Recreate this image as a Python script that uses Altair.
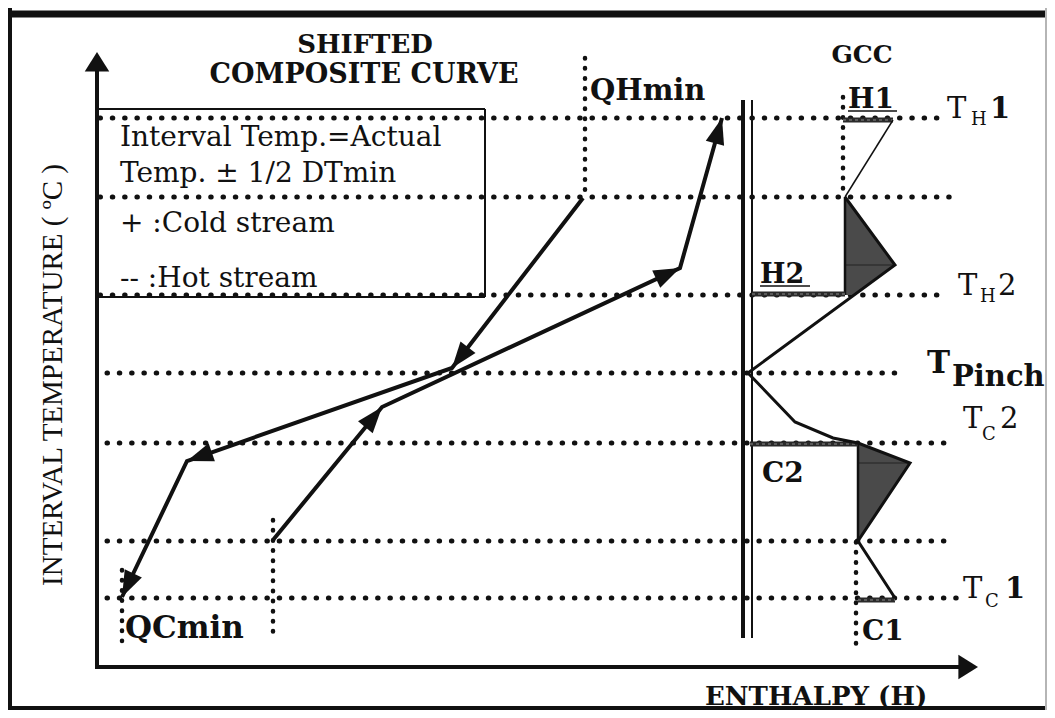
import math
import altair as alt
import pandas as pd

# ---------------- data (schematic units: H = enthalpy, T = interval temperature) -------------
# temperature interval boundaries
level_names = ["T_H1", "T_2", "T_H2", "T_Pinch", "T_C2", "T_6", "T_C1"]
level_T = [600, 521, 423, 345, 275, 177, 120]
level_H_from = [100, 100, 100, 107, 107, 107, 107]
level_H_to = [947, 955, 940, 895, 947, 947, 958]

# shifted composite curves
hot_H = [583, 452, 187, 122]
hot_T = [520, 350, 257, 121]
cold_H = [273, 382, 680, 722]
cold_T = [178, 311, 450, 600]

# grand composite curve
gcc_top_H = [893, 845]
gcc_top_T = [598, 521]
gcc_H = [845, 895, 748, 795, 833, 858, 910, 858, 895]
gcc_T = [521, 453, 345, 296, 280, 275, 255, 177, 120]

# heat-recovery pockets of the GCC
pocket1_T = [521, 453, 423]
pocket1_H = [845, 895, 854]
pocket1_base = 845
pocket2_T = [275, 255, 177]
pocket2_H = [858, 910, 858]
pocket2_base = 858

# utility bars (H1, H2 hot utilities; C2, C1 cold utilities)
bar_names = ["H1", "H2", "C2", "C1"]
bar_T = [598, 424, 274, 118]
bar_H_from = [843, 752, 750, 858]
bar_H_to = [893, 845, 858, 895]

# dotted guides (QHmin, H1, QCmin left/right, C1)
guide_names = ["QHmin", "H1", "QCmin_a", "QCmin_b", "C1"]
guide_H = [585, 843, 122, 273, 856]
guide_T_from = [660, 621, 148, 198, 176]
guide_T_to = [521, 521, 77, 77, 68]

# ---------------- scales ----------------
XS = alt.Scale(domain=[8, 1047], nice=False, zero=False)
YS = alt.Scale(domain=[8, 710], nice=False, zero=False)
INK = "#111111"
SERIF = "DejaVu Serif"


def X(f="H"):
    return alt.X(f"{f}:Q", scale=XS, axis=None)


def Y(f="T"):
    return alt.Y(f"{f}:Q", scale=YS, axis=None)


def hrules(rows, **mk):
    df = pd.DataFrame(rows, columns=["H", "H2", "T"])
    return alt.Chart(df).mark_rule(**mk).encode(x=X("H"), x2="H2", y=Y("T"))


def vrules(rows, **mk):
    df = pd.DataFrame(rows, columns=["H", "T", "T2"])
    return alt.Chart(df).mark_rule(**mk).encode(x=X("H"), y=Y("T"), y2="T2")


def polyline(Hs, Ts, **mk):
    df = pd.DataFrame({"H": Hs, "T": Ts, "i": range(len(Hs))})
    return alt.Chart(df).mark_line(**mk).encode(x=X(), y=Y(), order="i:Q")


layers = []

# frame
layers.append(hrules([(8, 1047, 704)], color=INK, strokeWidth=7))
layers.append(hrules([(8, 1047, 10)], color=INK, strokeWidth=4))
layers.append(vrules([(10, 8, 710)], color=INK, strokeWidth=4))
layers.append(vrules([(1046, 8, 710)], color="#b5b5b5", strokeWidth=2))

# dotted temperature levels
dot = dict(color=INK, strokeWidth=5, strokeCap="round", strokeDash=[0.5, 11.8])
layers.append(hrules(list(zip(level_H_from, level_H_to, level_T)), **dot))
# dotted vertical guides
vdot = dict(color=INK, strokeWidth=4.5, strokeCap="round", strokeDash=[0.5, 9.6])
layers.append(vrules(list(zip(guide_H, guide_T_from, guide_T_to)), **vdot))

# legend box
layers.append(hrules([(97, 485, 609), (97, 485, 421)], color=INK, strokeWidth=2))
layers.append(vrules([(485, 609, 421)], color=INK, strokeWidth=2))

# axes
layers.append(vrules([(97, 51, 650)], color=INK, strokeWidth=4))
layers.append(hrules([(95, 962, 51)], color=INK, strokeWidth=4))

# composite curves
layers.append(polyline(hot_H, hot_T, color=INK, strokeWidth=4))
layers.append(polyline(cold_H, cold_T, color=INK, strokeWidth=4))

# GCC double axis line
layers.append(vrules([(743, 618, 80)], color=INK, strokeWidth=4))
layers.append(vrules([(752, 618, 80)], color=INK, strokeWidth=2))

# pockets (shaded)
for Ts, Hs, base in [(pocket1_T, pocket1_H, pocket1_base), (pocket2_T, pocket2_H, pocket2_base)]:
    df = pd.DataFrame({"T": Ts, "H": Hs, "Hb": [base] * len(Ts)})
    layers.append(
        alt.Chart(df)
        .mark_area(orient="horizontal", color="#4a4a4a", opacity=1)
        .encode(y=Y(), x=X(), x2="Hb")
    )
    layers.append(hrules([(base, max(Hs), Ts[1])], color="#222222", strokeWidth=1))
    layers.append(vrules([(base, Ts[0], Ts[-1])], color=INK, strokeWidth=2.5))

# utility bars
layers.append(hrules(list(zip(bar_H_from, bar_H_to, bar_T)), color="#2a2a2a", strokeWidth=5))
layers.append(hrules(list(zip(bar_H_from, bar_H_to, bar_T)), color="#8a8a8a", strokeWidth=1, strokeDash=[3, 3]))

# GCC line
layers.append(polyline(gcc_top_H, gcc_top_T, color=INK, strokeWidth=1.5))
layers.append(polyline(gcc_H, gcc_T, color=INK, strokeWidth=3))

# arrowheads on composite curves (at the end of every segment)
heads = []
for Hs, Ts in [(hot_H, hot_T), (cold_H, cold_T)]:
    for k in range(1, len(Hs)):
        dH, dT = Hs[k] - Hs[k - 1], Ts[k] - Ts[k - 1]
        heads.append({"H": Hs[k], "T": Ts[k], "ang": math.degrees(math.atan2(dH, dT)) % 360})
layers.append(
    alt.Chart(pd.DataFrame(heads))
    .mark_point(shape="M0,0L0.65,1.8L-0.65,1.8Z", filled=True, size=850, color=INK, opacity=1, strokeWidth=0)
    .encode(x=X(), y=Y(), angle=alt.Angle("ang:Q", scale=None))
)
# axis arrowheads
axis_heads = pd.DataFrame({"H": [97, 978], "T": [666, 51], "ang": [0, 90]})
layers.append(
    alt.Chart(axis_heads)
    .mark_point(shape="M0,0L1,1.6L-1,1.6Z", filled=True, size=600, color=INK, opacity=1, strokeWidth=0)
    .encode(x=X(), y=Y(), angle=alt.Angle("ang:Q", scale=None))
)

# underlines of H1, H2
layers.append(hrules([(848, 897, 607), (760, 810, 432)], color=INK, strokeWidth=1.5))

# ---------------- text ----------------
labels = [
    # text, H, T, size, weight, align, font
    ("SHIFTED", 365, 665, 26, "bold", "center", SERIF),
    ("COMPOSITE CURVE", 364, 635, 27, "bold", "center", SERIF),
    ("GCC", 862, 655, 25, "bold", "center", SERIF),
    ("QHmin", 590, 618, 29, "bold", "left", SERIF),
    ("QCmin", 125, 80, 31, "bold", "left", SERIF),
    ("H1", 848, 610, 28, "bold", "left", SERIF),
    ("H2", 760, 435, 27, "bold", "left", SERIF),
    ("C2", 762, 236, 28, "bold", "left", SERIF),
    ("C1", 862, 78, 28, "bold", "left", SERIF),
    ("ENTHALPY (H)", 705, 13, 26, "bold", "left", SERIF),
    ("Interval Temp.=Actual", 120, 572, 28, "normal", "left", SERIF),
    ("Temp. ± 1/2 DTmin", 120, 536, 28, "normal", "left", SERIF),
    ("+ :Cold stream", 120, 486, 28, "normal", "left", SERIF),
    ("-- :Hot stream", 120, 431, 28, "normal", "left", SERIF),
    ("T", 947, 600, 29, "normal", "left", SERIF),
    ("H", 971, 593, 18, "normal", "left", SERIF),
    ("1", 990, 600, 29, "bold", "left", SERIF),
    ("T", 958, 423, 29, "normal", "left", SERIF),
    ("H", 980, 416, 18, "normal", "left", SERIF),
    ("2", 998, 423, 29, "normal", "left", SERIF),
    ("T", 927, 345, 31, "bold", "left", SERIF),
    ("Pinch", 952, 332, 29, "bold", "left", SERIF),
    ("T", 963, 290, 29, "normal", "left", SERIF),
    ("C", 982, 278, 18, "normal", "left", SERIF),
    ("2", 1000, 290, 29, "normal", "left", SERIF),
    ("T", 963, 120, 29, "normal", "left", SERIF),
    ("C", 985, 111, 18, "normal", "left", SERIF),
    ("1", 1005, 120, 29, "bold", "left", SERIF),
]
lab = pd.DataFrame(labels, columns=["text", "H", "T", "size", "weight", "align", "font"])
for (weight, align, font), g in lab.groupby(["weight", "align", "font"]):
    layers.append(
        alt.Chart(g)
        .mark_text(align=align, baseline="alphabetic", font=font, fontWeight=weight, color=INK)
        .encode(x=X(), y=Y(), text="text:N", size=alt.Size("size:Q", scale=None))
    )

ytitle = pd.DataFrame({"text": ["INTERVAL TEMPERATURE ( ºC )"], "H": [53], "T": [343]})
layers.append(
    alt.Chart(ytitle)
    .mark_text(angle=270, align="center", baseline="middle", font="Liberation Serif", fontSize=29, color=INK)
    .encode(x=X(), y=Y(), text="text:N")
)

chart = (
    alt.layer(*layers)
    .properties(width=1039, height=702, padding=0, autosize="none", background="white")
    .configure_view(stroke=None)
)
chart.save("out.html", embed_options={"renderer": "svg", "actions": False})
